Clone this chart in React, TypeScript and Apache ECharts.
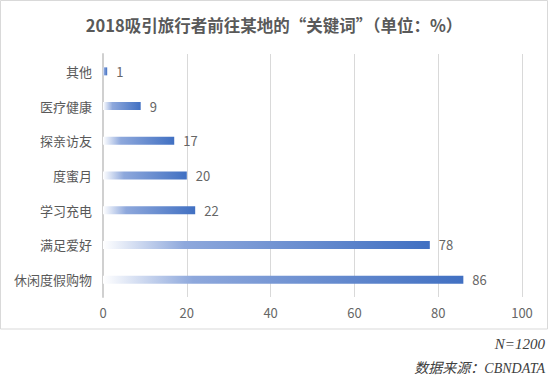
import React, { useEffect, useRef } from "react";
import * as echarts from "echarts";

const categories = ["其他", "医疗健康", "探亲访友", "度蜜月", "学习充电", "满足爱好", "休闲度假购物"];
const values = [1, 9, 17, 20, 22, 78, 86];
const titleText = "2018吸引旅行者前往某地的“关键词”（单位：%）";
const noteN = "N=1200";
const noteSource = "数据来源：CBNDATA";

export default function App() {
  const ref = useRef<HTMLDivElement>(null);
  useEffect(() => {
    if (!ref.current) return;
    const chart = echarts.init(ref.current, null, { renderer: "svg" });
    const font = "'Noto Sans CJK SC', 'Noto Sans', sans-serif";
    chart.setOption({
      animation: false,
      backgroundColor: "#ffffff",
      title: {
        text: titleText,
        left: 269,
        top: 12,
        textAlign: "center",
        textStyle: { fontSize: 16.5, fontWeight: "bold", color: "#595959", fontFamily: font },
      },
      grid: { left: 103, right: 28, top: 54, bottom: 86, containLabel: false },
      xAxis: {
        type: "value",
        min: 0,
        max: 100,
        interval: 20,
        axisLine: { show: false },
        axisTick: { show: false },
        splitLine: { show: true, lineStyle: { color: "#d9d9d9", width: 1 } },
        axisLabel: { color: "#666666", fontSize: 13, margin: 9, fontFamily: font },
      },
      yAxis: {
        type: "category",
        data: categories,
        inverse: true,
        axisLine: { show: true, lineStyle: { color: "#d0d0d0", width: 2 } },
        axisTick: { show: false },
        axisLabel: { color: "#595959", fontSize: 13, margin: 11, fontFamily: font },
      },
      series: [
        {
          type: "bar",
          data: values,
          barWidth: 8,
          itemStyle: {
            color: new echarts.graphic.LinearGradient(0, 0, 1, 0, [
              { offset: 0, color: "#ffffff" },
              { offset: 0.25, color: "#8ea8dc" },
              { offset: 1, color: "#4170c2" },
            ]),
          },
          label: {
            show: true,
            position: "right",
            distance: 9,
            color: "#666666",
            fontSize: 13,
            fontFamily: font,
          },
        },
      ],
      graphic: [
        {
          type: "rect",
          shape: { x: 0.5, y: 0.5, width: 547, height: 328.5 },
          style: { fill: "none", stroke: "#d9d9d9", lineWidth: 1 },
          silent: true,
        },
        {
          type: "text",
          style: {
            x: 545,
            y: 344,
            text: noteN,
            textAlign: "right",
            textVerticalAlign: "middle",
            font: "italic 15px 'Liberation Serif', 'Noto Sans CJK SC', serif",
            fill: "#404040",
          },
        },
        {
          type: "text",
          style: {
            x: 545,
            y: 368,
            text: noteSource,
            textAlign: "right",
            textVerticalAlign: "middle",
            font: "italic 14px 'Liberation Serif', 'Noto Sans CJK SC', serif",
            fill: "#404040",
          },
        },
      ],
    });
    return () => chart.dispose();
  }, []);
  return (
    <div
      ref={ref}
      style={{ position: "fixed", left: 0, top: 0, width: 550, height: 383 }}
    />
  );
}
